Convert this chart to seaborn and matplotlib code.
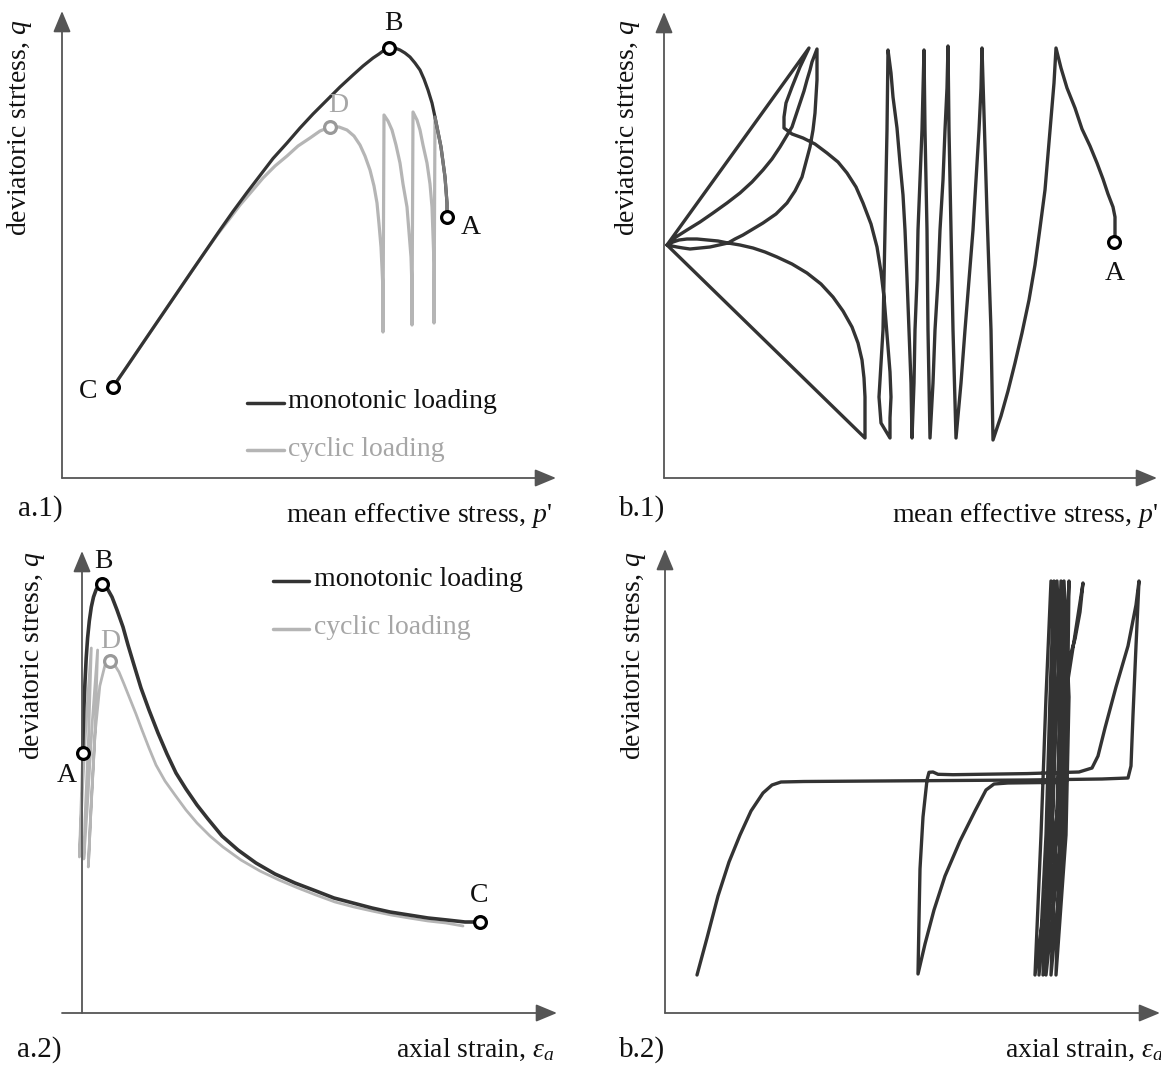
import matplotlib
matplotlib.use("Agg")
import matplotlib.pyplot as plt
import seaborn as sns

# ---- data (picture units, origin at each panel's axis corner) ----
# a.1  q - p' : monotonic vs cyclic
a1_mono_p = [51, 65, 78, 92, 105, 118, 131, 145, 158, 171, 185, 198, 211, 225, 238, 251, 265, 278, 291, 301,
             311, 317, 321, 327, 333, 338, 343, 348, 353, 358, 362, 366, 370, 373, 376, 379, 381, 383, 384, 385, 385]
a1_mono_q = [91, 111.5, 130.7, 151.3, 170.4, 189.5, 208.6, 229, 248, 266.5, 285.5, 302.5, 319.5, 335, 350, 364,
             378, 391, 403, 412, 420, 424, 427, 430, 430, 428, 425, 421, 415, 408, 399, 388, 375, 361, 346, 331,
             316, 301, 288, 275, 261]
a1_cyc_p = [51, 65, 78, 92, 105, 118, 131, 143, 155, 167, 178, 190, 201, 213, 225, 236, 248, 258, 268, 277,
            285, 292, 298, 303, 308, 312, 315, 317, 319, 320, 321, 321,
            322, 326, 330, 334, 338, 341, 345, 347, 349, 350, 350,
            351, 355, 358, 361, 365, 368, 370, 371, 372, 372, 372,
            373]
a1_cyc_q = [91, 111.5, 130.7, 151.3, 170.4, 189.5, 208.6, 226, 243, 258.5, 273, 287, 300, 312, 322, 332, 340, 347,
            351, 351, 348, 342, 333, 322, 308, 292, 275, 254, 231, 210, 188, 146,
            363, 357, 348, 333, 315, 294, 271, 246, 221, 190, 153,
            366, 358, 348, 333, 315, 294, 271, 243, 215, 185, 155,
            361]
a1_tail_p = [373, 376, 379, 381, 383, 384, 385, 385]
a1_tail_q = [361, 346, 331, 316, 301, 288, 275, 261]
a1_pts = {"A": (385, 261), "B": (327, 430), "C": (51, 91)}
a1_D = (268, 351)

# a.2  q - axial strain
a2_mono_e = [0.7, 1.5, 3, 4.2, 5.6, 7.3, 9.3, 11.5, 14, 17, 20, 25, 30, 35, 41, 46, 52, 59, 67, 76,
             85, 94, 104, 115, 126, 140, 156, 174, 193, 213, 234, 252, 271, 290, 308, 327, 346, 365, 383, 398]
a2_mono_q = [260, 296, 331, 355, 375, 392, 406, 416, 423, 428, 429, 425, 416, 403, 386, 368, 348, 325, 303, 280,
             259, 240, 224, 208, 194, 177, 163, 150, 139, 130, 122, 115, 110, 105, 101, 98, 95, 93, 91, 91]
a2_cyc_e = [0.7, -0.8, -2.6, 0.7, 4.4, 9.3, 6.7, 3, 1.8, 5.6, 10.4, 15.6, 13, 8.5, 6.3, 9.3, 13, 17.8, 23, 28,
            32, 37, 42, 48, 54, 60, 67, 74, 83, 93, 104, 115, 128, 141, 159, 178, 197, 216, 234, 253,
            272, 290, 309, 327, 346, 364, 381]
a2_cyc_q = [260, 211, 156, 228, 296, 365, 279, 194, 154, 211, 293, 363, 279, 194, 146, 211, 279, 327, 348, 352,
            349, 341, 329, 314, 299, 283, 265, 248, 232, 218, 203, 190, 177, 166, 153, 142, 133, 125, 118, 111,
            106, 102, 98, 95, 92, 90, 87]
a2_pts = {"A": (0.7, 260), "B": (20, 429), "C": (398, 91)}
a2_D = (28, 352)

# b.1  cyclic q - p' (one stress path, read in pieces)
b1_right_cycles = [(450, 234), (451, 240), (451, 261), (449, 271), (444, 284), (439, 299), (433, 315), (426, 332),
                   (418, 349), (411, 370), (403, 390), (397, 410), (392, 430),
                   (390, 395), (387, 359), (384, 323), (381, 288), (376, 250), (371, 213), (365, 178), (358, 145),
                   (351, 115), (344, 87), (337, 62), (329, 38),
                   (327, 148), (323, 265), (320, 365), (318, 430),
                   (317, 390), (315, 348), (312, 298), (309, 248), (305, 198), (301, 148), (297, 95), (292, 40),
                   (289, 148), (287, 248), (285, 348), (284, 432),
                   (283, 390), (281, 348), (279, 298), (276, 248), (274, 198), (271, 148), (269, 95), (266, 40),
                   (264, 148), (263, 248), (261, 348), (260, 428),
                   (259, 390), (258, 348), (256, 298), (254, 248), (253, 198), (251, 148), (250, 95), (248, 40)]
b1_mid_cycles = [(247, 95), (245, 148), (243, 200), (241, 248), (239, 283), (236, 315), (233, 350), (229, 381),
                 (227, 405), (224, 428),
                 (223, 348), (221, 248), (219, 148), (215, 81), (217, 55), (226, 40),
                 (226, 60), (227, 81), (226, 106), (224, 131), (222, 156), (220, 181), (217, 206), (213, 231),
                 (207, 254), (199, 275), (192, 291), (183, 305), (174, 316), (163, 325), (151, 334), (139, 340),
                 (128, 344), (120, 350), (120, 361), (122, 375), (128, 391), (136, 411), (145, 430)]
b1_left_loops = [(3, 233), (201, 40),
                 (201, 60), (201, 81), (200, 100), (198, 118), (194, 135), (188, 151), (179, 167), (169, 181),
                 (157, 194), (143, 205), (128, 214), (113, 221), (101, 226), (89, 230), (76, 233), (64, 235),
                 (54, 237), (43, 238), (33, 239), (23, 239), (15, 238), (9, 236), (3, 233),
                 (12, 241), (23, 248), (36, 256), (49, 265), (63, 275), (76, 285), (88, 296), (99, 308), (108, 319),
                 (116, 331), (122, 341), (128, 351), (132, 363), (136, 375), (140, 387), (143, 398), (146, 408),
                 (148, 416), (153, 429),
                 (153, 414), (153, 398), (152, 382), (151, 365), (149, 348), (146, 331), (142, 316), (138, 301),
                 (131, 287), (123, 275), (112, 264), (99, 255), (89, 249), (79, 243), (71, 239), (64, 235),
                 (55, 233), (46, 231), (36, 230), (26, 229), (19, 230), (13, 231), (8, 232), (3, 233)]
b1_A = (450, 236)

# b.2  cyclic q - axial strain
b2_e = [32, 42, 53, 64, 75, 86, 98, 107, 116, 139, 213, 288, 362, 437, 463,
        466, 468, 471, 474,
        471, 463, 451, 440, 433, 427, 414, 362, 288, 273, 268, 264, 262,
        258, 255, 254, 253,
        260, 269, 280, 295, 310, 321, 329, 343, 381, 399,
        401, 402, 404, 410, 415, 418,
        403, 394, 370, 376, 381, 386, 390, 387, 374, 381, 385, 389, 395, 392, 378,
        384, 388, 392, 397, 396, 381, 387, 392, 396, 401, 399, 386, 391, 396, 399,
        404, 401, 391, 395, 399, 404, 403, 401]
b2_q = [38, 75, 117, 151, 178, 202, 220, 228, 231, 231.5, 232, 232.5, 233, 234, 235,
        247, 298, 367, 432,
        408, 367, 326, 285, 257, 245, 241, 239.4, 238.3, 238.7, 241, 240.7, 233,
        196, 144, 93, 39,
        69, 103, 137, 172, 202, 223, 229, 230, 230.5, 230.5,
        264, 316, 353, 374, 401, 430,
        333, 213, 38, 178, 316, 432, 316, 178, 38, 178, 316, 432, 316, 178, 38,
        178, 316, 432, 316, 178, 38, 178, 316, 432, 316, 178, 38, 178, 316, 432,
        316, 178, 38, 178, 316, 432, 350, 230]

# ---- style ----
DARK = "#333333"
GRAY = "#b5b5b5"
GRAY_TXT = "#a6a6a6"
AXIS = "#555555"
INK = "#111111"
FS = 20

sns.set_theme(style="white")
plt.rcParams["font.family"] = ["Liberation Serif", "DejaVu Serif"]
plt.rcParams["mathtext.fontset"] = "custom"
plt.rcParams["mathtext.rm"] = "Liberation Serif"
plt.rcParams["mathtext.it"] = "Liberation Serif:italic"

W, H = 1161, 1065
fig = plt.figure(figsize=(W / 100, H / 100), dpi=100)


def panel(ox, oy, xlim, ylim):
    ax = fig.add_axes([(ox + xlim[0]) / W, (H - oy + ylim[0]) / H,
                       (xlim[1] - xlim[0]) / W, (ylim[1] - ylim[0]) / H])
    ax.set_xlim(*xlim)
    ax.set_ylim(*ylim)
    ax.set_axis_off()
    ax.patch.set_visible(False)
    return ax


def arrows(ax, x0, x1, y1):
    kw = dict(arrowstyle="-|>,head_length=0.65,head_width=0.27", color=AXIS, lw=1.3,
              shrinkA=0, shrinkB=0, mutation_scale=20)
    ax.annotate("", xy=(x1, 0), xytext=(x0, 0), arrowprops=kw)
    ax.annotate("", xy=(0, y1), xytext=(0, 0), arrowprops=kw)


def curve(ax, x, y, color, lw):
    sns.lineplot(x=x, y=y, sort=False, estimator=None, color=color, linewidth=lw, ax=ax,
                 solid_joinstyle="round", solid_capstyle="round")


def ring(ax, xy, color="black"):
    ax.plot([xy[0]], [xy[1]], marker="o", ms=8.5, mfc="white", mec=color, mew=2.3,
            zorder=6, clip_on=False)


def ftext(x, y, s, **kw):
    kw.setdefault("fontsize", FS)
    kw.setdefault("color", INK)
    fig.text(x / W, 1 - y / H, s, **kw)


# ---- a.1 ----
ax = panel(62, 478, (-30, 500), (-30, 470))
arrows(ax, 0, 494, 467)
curve(ax, a1_cyc_p, a1_cyc_q, GRAY, 2.3)
curve(ax, a1_mono_p, a1_mono_q, DARK, 2.3)
curve(ax, a1_tail_p, a1_tail_q, "#7a7a7a", 2.3)
for k, xy in a1_pts.items():
    ring(ax, xy)
ring(ax, a1_D, "#999999")
ax.text(409, 250, "A", fontsize=FS, color=INK, ha="center", va="center")
ax.text(331, 454, "B", fontsize=FS, color=INK, ha="center", va="center")
ax.text(26, 86, "C", fontsize=FS, color=INK, ha="center", va="center")
ax.text(276, 373, "D", fontsize=FS, color=GRAY_TXT, ha="center", va="center")
ax.plot([185, 222], [75, 75], color=DARK, lw=2.5)
ax.text(226, 76, "monotonic loading", fontsize=FS, color=INK, ha="left", va="center")
ax.plot([185, 222], [28, 28], color=GRAY, lw=2.5)
ax.text(226, 29, "cyclic loading", fontsize=FS, color=GRAY_TXT, ha="left", va="center")
ftext(20, 20, "deviatoric strtess, $q$", rotation=90, ha="center", va="top")
ftext(552, 522, "mean effective stress, $p$'", ha="right", va="baseline")
ftext(18, 516, "a.1)", ha="left", va="baseline", fontsize=21)

# ---- b.1 ----
ax = panel(664, 478, (-10, 497), (-30, 470))
arrows(ax, 0, 493, 466)
b1_path = b1_right_cycles + b1_mid_cycles + b1_left_loops
curve(ax, [pt[0] for pt in b1_path], [pt[1] for pt in b1_path], DARK, 2.4)
ring(ax, b1_A)
ax.text(451, 205, "A", fontsize=FS, color=INK, ha="center", va="center")
ftext(627, 20, "deviatoric strtess, $q$", rotation=90, ha="center", va="top")
ftext(1158, 522, "mean effective stress, $p$'", ha="right", va="baseline")
ftext(619, 516, "b.1)", ha="left", va="baseline", fontsize=21)

# ---- a.2 ----
ax = panel(82, 1013, (-25, 480), (-10, 465))
arrows(ax, -20, 475, 462)
curve(ax, a2_cyc_e, a2_cyc_q, GRAY, 2.0)
curve(ax, a2_mono_e, a2_mono_q, DARK, 2.6)
for k, xy in a2_pts.items():
    ring(ax, xy)
ring(ax, a2_D, "#999999")
ax.text(-15, 237, "A", fontsize=FS, color=INK, ha="center", va="center")
ax.text(21, 451, "B", fontsize=FS, color=INK, ha="center", va="center")
ax.text(397, 117, "C", fontsize=FS, color=INK, ha="center", va="center")
ax.text(28, 372, "D", fontsize=FS, color=GRAY_TXT, ha="center", va="center")
ax.plot([191, 227], [432, 432], color=DARK, lw=2.5)
ax.text(232, 433, "monotonic loading", fontsize=FS, color=INK, ha="left", va="center")
ax.plot([191, 227], [384, 384], color=GRAY, lw=2.5)
ax.text(232, 385, "cyclic loading", fontsize=FS, color=GRAY_TXT, ha="left", va="center")
ftext(33, 551, "deviatoric stress, $q$", rotation=90, ha="center", va="top")
ftext(554, 1057, "axial strain, $\\varepsilon_a$", ha="right", va="baseline")
ftext(17, 1057, "a.2)", ha="left", va="baseline", fontsize=21)

# ---- b.2 ----
ax = panel(665, 1013, (-10, 496), (-10, 465))
arrows(ax, 0, 495, 464)
curve(ax, b2_e, b2_q, DARK, 2.4)
ftext(633, 551, "deviatoric stress, $q$", rotation=90, ha="center", va="top")
ftext(1163, 1057, "axial strain, $\\varepsilon_a$", ha="right", va="baseline")
ftext(619, 1057, "b.2)", ha="left", va="baseline", fontsize=21)

fig.savefig("out.png", dpi=100)
